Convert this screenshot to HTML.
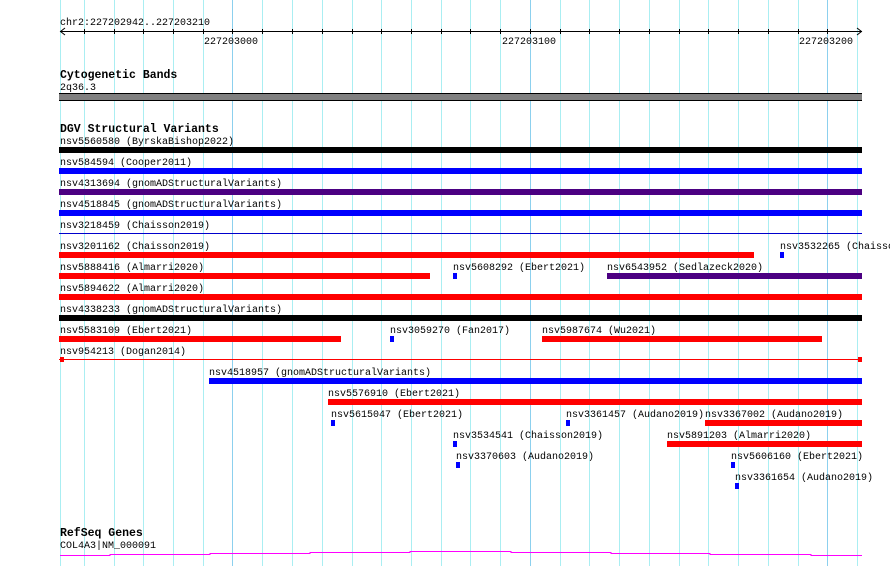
<!DOCTYPE html>
<html><head><meta charset="utf-8"><style>
body{margin:0;background:#fff}
svg text{font-family:"Liberation Mono",monospace;font-size:10px;fill:#000}
svg text.b{font-weight:bold;font-size:11.5px}
</style></head><body>
<svg width="890" height="566" xmlns="http://www.w3.org/2000/svg">
<rect width="890" height="566" fill="#fff"/>
<g stroke="#aaeef2" stroke-width="1">
<line x1="60.5" y1="0" x2="60.5" y2="566"/><line x1="84.5" y1="0" x2="84.5" y2="566"/><line x1="114.5" y1="0" x2="114.5" y2="566"/><line x1="143.5" y1="0" x2="143.5" y2="566"/><line x1="173.5" y1="0" x2="173.5" y2="566"/><line x1="203.5" y1="0" x2="203.5" y2="566"/><line x1="262.5" y1="0" x2="262.5" y2="566"/><line x1="292.5" y1="0" x2="292.5" y2="566"/><line x1="322.5" y1="0" x2="322.5" y2="566"/><line x1="352.5" y1="0" x2="352.5" y2="566"/><line x1="381.5" y1="0" x2="381.5" y2="566"/><line x1="411.5" y1="0" x2="411.5" y2="566"/><line x1="441.5" y1="0" x2="441.5" y2="566"/><line x1="470.5" y1="0" x2="470.5" y2="566"/><line x1="500.5" y1="0" x2="500.5" y2="566"/><line x1="560.5" y1="0" x2="560.5" y2="566"/><line x1="589.5" y1="0" x2="589.5" y2="566"/><line x1="619.5" y1="0" x2="619.5" y2="566"/><line x1="649.5" y1="0" x2="649.5" y2="566"/><line x1="679.5" y1="0" x2="679.5" y2="566"/><line x1="708.5" y1="0" x2="708.5" y2="566"/><line x1="738.5" y1="0" x2="738.5" y2="566"/><line x1="768.5" y1="0" x2="768.5" y2="566"/><line x1="798.5" y1="0" x2="798.5" y2="566"/><line x1="857.5" y1="0" x2="857.5" y2="566"/>
</g>
<g stroke="#8cd0ee" stroke-width="1">
<line x1="232.5" y1="0" x2="232.5" y2="566"/><line x1="530.5" y1="0" x2="530.5" y2="566"/><line x1="827.5" y1="0" x2="827.5" y2="566"/>
</g>
<!-- ruler -->
<text x="60" y="25">chr2:227202942..227203210</text>
<g stroke="#000" stroke-width="1">
<line x1="60" y1="31.5" x2="862" y2="31.5"/>
<polyline points="65,28 60.5,31.5 65,35" fill="none"/>
<polyline points="857,28 861.5,31.5 857,35" fill="none"/>
<path d="M84.5 29v5M114.5 29v5M143.5 29v5M173.5 29v5M203.5 29v5M232.5 29v5M262.5 29v5M292.5 29v5M322.5 29v5M352.5 29v5M381.5 29v5M411.5 29v5M441.5 29v5M470.5 29v5M500.5 29v5M530.5 29v5M560.5 29v5M589.5 29v5M619.5 29v5M649.5 29v5M679.5 29v5M708.5 29v5M738.5 29v5M768.5 29v5M798.5 29v5M827.5 29v5"/>
</g>
<text x="204" y="44">227203000</text>
<text x="502" y="44">227203100</text>
<text x="799" y="44">227203200</text>
<!-- cytoband -->
<text class="b" x="60" y="78">Cytogenetic Bands</text>
<text x="60" y="90">2q36.3</text>
<rect x="59" y="93" width="803" height="8" fill="#000"/>
<rect x="59" y="94" width="803" height="6" fill="#808080"/>
<!-- DGV -->
<text class="b" x="60" y="132">DGV Structural Variants</text>
<text x="60" y="144">nsv5560580 (ByrskaBishop2022)</text>
<rect x="59" y="147" width="803" height="6" fill="#000"/>
<text x="60" y="165">nsv584594 (Cooper2011)</text>
<rect x="59" y="168" width="803" height="6" fill="#0000ff"/>
<text x="60" y="186">nsv4313694 (gnomADStructuralVariants)</text>
<rect x="59" y="189" width="803" height="6" fill="#4b0082"/>
<text x="60" y="207">nsv4518845 (gnomADStructuralVariants)</text>
<rect x="59" y="210" width="803" height="6" fill="#0000ff"/>
<text x="60" y="228">nsv3218459 (Chaisson2019)</text>
<rect x="59" y="233" width="803" height="1" fill="#0000cc"/>
<text x="60" y="249">nsv3201162 (Chaisson2019)</text>
<rect x="59" y="252" width="695" height="6" fill="#ff0000"/>
<text x="780" y="249">nsv3532265 (Chaisson2019)</text>
<rect x="780" y="252" width="4" height="6" fill="#0000ff"/>
<text x="60" y="270">nsv5888416 (Almarri2020)</text>
<rect x="59" y="273" width="371" height="6" fill="#ff0000"/>
<text x="453" y="270">nsv5608292 (Ebert2021)</text>
<rect x="453" y="273" width="4" height="6" fill="#0000ff"/>
<text x="607" y="270">nsv6543952 (Sedlazeck2020)</text>
<rect x="607" y="273" width="255" height="6" fill="#4b0082"/>
<text x="60" y="291">nsv5894622 (Almarri2020)</text>
<rect x="59" y="294" width="803" height="6" fill="#ff0000"/>
<text x="60" y="312">nsv4338233 (gnomADStructuralVariants)</text>
<rect x="59" y="315" width="803" height="6" fill="#000"/>
<text x="60" y="333">nsv5583109 (Ebert2021)</text>
<rect x="59" y="336" width="282" height="6" fill="#ff0000"/>
<text x="390" y="333">nsv3059270 (Fan2017)</text>
<rect x="390" y="336" width="4" height="6" fill="#0000ff"/>
<text x="542" y="333">nsv5987674 (Wu2021)</text>
<rect x="542" y="336" width="280" height="6" fill="#ff0000"/>
<text x="60" y="354">nsv954213 (Dogan2014)</text>
<rect x="59" y="359" width="803" height="1" fill="#ff0000"/>
<rect x="60" y="357" width="4" height="5" fill="#ff0000"/>
<rect x="858" y="357" width="4" height="5" fill="#ff0000"/>
<text x="209" y="375">nsv4518957 (gnomADStructuralVariants)</text>
<rect x="209" y="378" width="653" height="6" fill="#0000ff"/>
<text x="328" y="396">nsv5576910 (Ebert2021)</text>
<rect x="328" y="399" width="534" height="6" fill="#ff0000"/>
<text x="331" y="417">nsv5615047 (Ebert2021)</text>
<rect x="331" y="420" width="4" height="6" fill="#0000ff"/>
<text x="566" y="417">nsv3361457 (Audano2019)</text>
<rect x="566" y="420" width="4" height="6" fill="#0000ff"/>
<text x="705" y="417">nsv3367002 (Audano2019)</text>
<rect x="705" y="420" width="157" height="6" fill="#ff0000"/>
<text x="453" y="438">nsv3534541 (Chaisson2019)</text>
<rect x="453" y="441" width="4" height="6" fill="#0000ff"/>
<text x="667" y="438">nsv5891203 (Almarri2020)</text>
<rect x="667" y="441" width="195" height="6" fill="#ff0000"/>
<text x="456" y="459">nsv3370603 (Audano2019)</text>
<rect x="456" y="462" width="4" height="6" fill="#0000ff"/>
<text x="731" y="459">nsv5606160 (Ebert2021)</text>
<rect x="731" y="462" width="4" height="6" fill="#0000ff"/>
<text x="735" y="480">nsv3361654 (Audano2019)</text>
<rect x="735" y="483" width="4" height="6" fill="#0000ff"/>
<!-- RefSeq -->
<text class="b" x="60" y="536">RefSeq Genes</text>
<text x="60" y="548">COL4A3|NM_000091</text>
<polyline fill="none" stroke="#ff00ff" stroke-width="1" points="60,555.5 110,555.5 110,554.5 210,554.5 210,553.5 310,553.5 310,552.5 410,552.5 410,551.5 511,551.5 511,552.5 611,552.5 611,553.5 710,553.5 710,554.5 811,554.5 811,555.5 862,555.5"/>
</svg>
</body></html>
